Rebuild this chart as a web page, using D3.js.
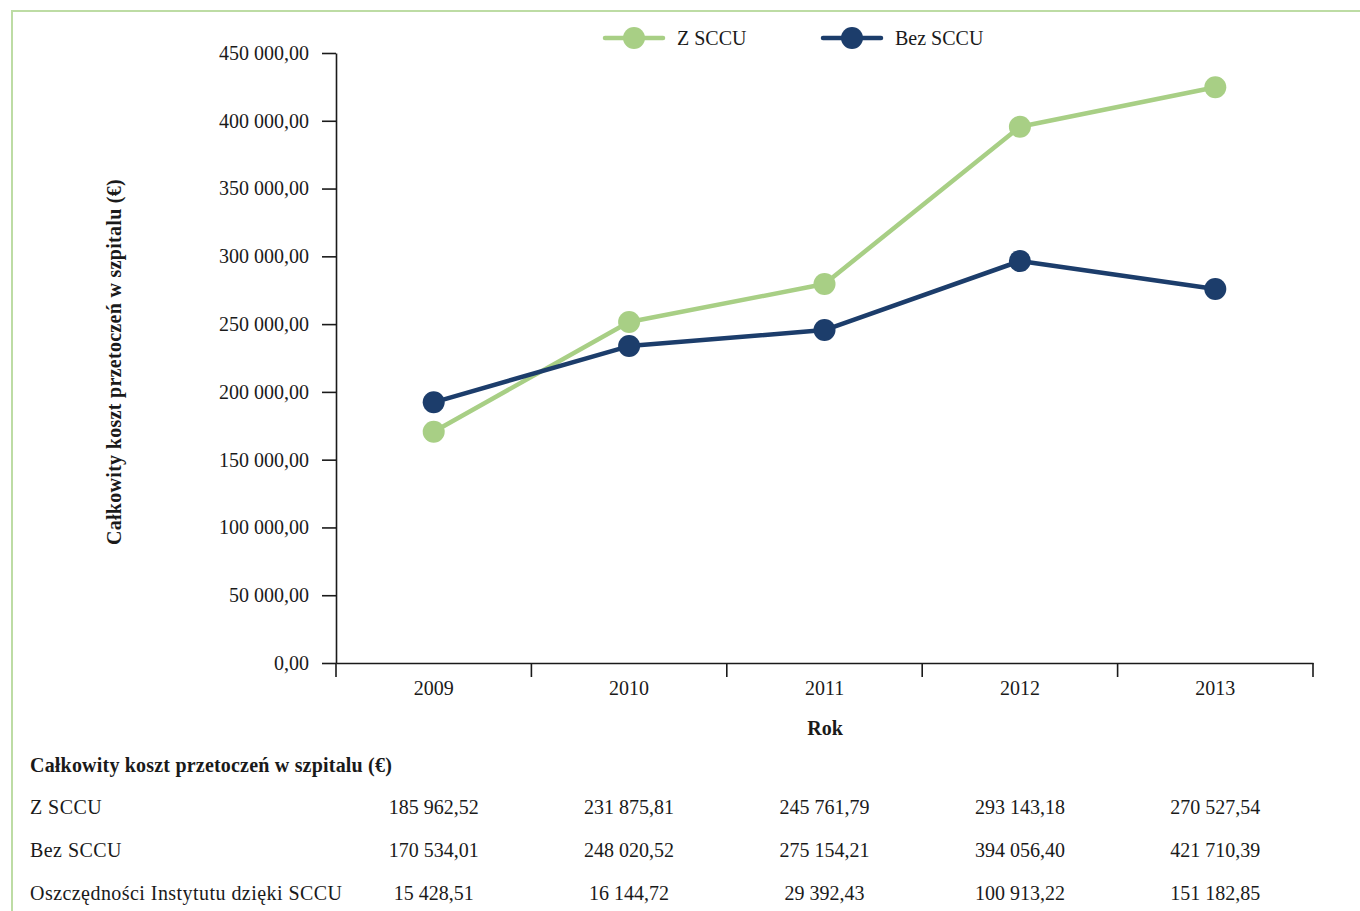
<!DOCTYPE html>
<html>
<head>
<meta charset="utf-8">
<script src="https://cdn.jsdelivr.net/npm/d3@7"></script>
<style>
  html, body { margin: 0; padding: 0; background: #ffffff; }
  svg { display: block; font-family: "Liberation Serif", "Times New Roman", serif; }
</style>
</head>
<body>
<svg id="chart" width="1360" height="911"></svg>
<script>
// Years on the horizontal axis
const years = ["2009", "2010", "2011", "2012", "2013"];

// Plotted series (total transfusion cost per year, €)
const seriesNames = ["Z SCCU", "Bez SCCU"];
const zSccu = [170600, 251500, 279600, 395600, 424700];
const bezSccu = [192300, 233800, 245600, 296500, 275900];

// Y axis ticks
const yTicks = [0, 50000, 100000, 150000, 200000, 250000, 300000, 350000, 400000, 450000];

// Data table below the chart
const tableTitle = "Całkowity koszt przetoczeń w szpitalu (€)";
const rowLabels = ["Z SCCU", "Bez SCCU", "Oszczędności Instytutu dzięki SCCU"];
const rowZ = [185962.52, 231875.81, 245761.79, 293143.18, 270527.54];
const rowBez = [170534.01, 248020.52, 275154.21, 394056.40, 421710.39];
const rowSavings = [15428.51, 16144.72, 29392.43, 100913.22, 151182.85];

const colors = { green: "#a8cf85", blue: "#1c3d6b", frame: "#bddca4", ink: "#1a1a1a" };
const fontSize = 20;

const svg = d3.select("#chart");

// Polish number format: space as thousands separator, comma as decimal mark
const plLocale = d3.formatLocale({ decimal: ",", thousands: "\u00a0", grouping: [3], currency: ["", " €"] });
const fmt = plLocale.format(",.2f");

// Outer frame (top and left rule)
svg.append("line").attr("x1", 11).attr("x2", 1360).attr("y1", 11).attr("y2", 11)
  .attr("stroke", colors.frame).attr("stroke-width", 2);
svg.append("line").attr("x1", 12).attr("x2", 12).attr("y1", 10).attr("y2", 911)
  .attr("stroke", colors.frame).attr("stroke-width", 2);

const plot = { left: 336, right: 1313, top: 53, bottom: 663 };

const x = d3.scaleBand().domain(years).range([plot.left, plot.right]).padding(0);
const y = d3.scaleLinear().domain([0, 450000]).range([plot.bottom, plot.top]);
const cx = d => x(d) + x.bandwidth() / 2;

// Y axis
const yAxis = d3.axisLeft(y).tickValues(yTicks).tickFormat(fmt).tickSize(14).tickPadding(13).tickSizeOuter(0);
const gy = svg.append("g").attr("transform", `translate(${plot.left},0)`).call(yAxis);
gy.select(".domain").attr("stroke", colors.ink).attr("stroke-width", 1.6);
gy.selectAll(".tick line").attr("stroke", colors.ink).attr("stroke-width", 1.6);
gy.selectAll(".tick text").attr("fill", colors.ink).style("font-size", fontSize + "px").style("font-family", "Liberation Serif, serif");

// X axis: labels centred in bands, ticks on band boundaries
const xAxis = d3.axisBottom(x).tickSize(0).tickPadding(18).tickSizeOuter(0);
const gx = svg.append("g").attr("transform", `translate(0,${plot.bottom})`).call(xAxis);
gx.select(".domain").attr("stroke", colors.ink).attr("stroke-width", 1.6);
gx.selectAll(".tick text").attr("fill", colors.ink).style("font-size", fontSize + "px").style("font-family", "Liberation Serif, serif");
const bounds = years.map(d => x(d)).concat([x.range()[1]]);
gx.selectAll(".bound").data(bounds).join("line").attr("class", "bound")
  .attr("x1", d => d).attr("x2", d => d).attr("y1", 0).attr("y2", 14)
  .attr("stroke", colors.ink).attr("stroke-width", 1.6);

// Axis titles
svg.append("text").attr("transform", "translate(121,362) rotate(-90)")
  .attr("text-anchor", "middle").attr("font-weight", "bold").attr("font-size", fontSize)
  .attr("letter-spacing", 0.3).attr("fill", colors.ink)
  .text(tableTitle);
svg.append("text").attr("x", 825).attr("y", 735)
  .attr("text-anchor", "middle").attr("font-weight", "bold").attr("font-size", fontSize).attr("fill", colors.ink)
  .text("Rok");

// Series lines and markers
const series = [
  { name: seriesNames[0], values: zSccu, color: colors.green },
  { name: seriesNames[1], values: bezSccu, color: colors.blue }
];
const line = d3.line().x((d, i) => cx(years[i])).y(d => y(d));
series.forEach(s => {
  svg.append("path").datum(s.values).attr("d", line)
    .attr("fill", "none").attr("stroke", s.color).attr("stroke-width", 4.5)
    .attr("stroke-linejoin", "round");
  svg.selectAll(null).data(s.values).join("circle")
    .attr("cx", (d, i) => cx(years[i])).attr("cy", d => y(d)).attr("r", 11)
    .attr("fill", s.color);
});

// Legend
const legendX = [605, 823];
series.forEach((s, i) => {
  const g = svg.append("g").attr("transform", `translate(${legendX[i]},38)`);
  g.append("line").attr("x1", 0).attr("x2", 58).attr("y1", 0).attr("y2", 0)
    .attr("stroke", s.color).attr("stroke-width", 4.5).attr("stroke-linecap", "round");
  g.append("circle").attr("cx", 29).attr("cy", 0).attr("r", 11).attr("fill", s.color);
  g.append("text").attr("x", 72).attr("y", 6.5).attr("font-size", fontSize).attr("fill", colors.ink).text(s.name);
});

// Data table
svg.append("text").attr("x", 30).attr("y", 772).attr("font-weight", "bold").attr("font-size", fontSize)
  .attr("letter-spacing", 0.2).attr("fill", colors.ink).text(tableTitle);
const rows = [rowZ, rowBez, rowSavings];
const rowY = [814, 857, 900];
rows.forEach((vals, r) => {
  svg.append("text").attr("x", 30).attr("y", rowY[r]).attr("font-size", fontSize)
    .attr("letter-spacing", 0.45).attr("fill", colors.ink)
    .text(rowLabels[r]);
  svg.selectAll(null).data(vals).join("text")
    .attr("x", (d, i) => cx(years[i])).attr("y", rowY[r]).attr("text-anchor", "middle")
    .attr("font-size", fontSize).attr("fill", colors.ink).text(d => fmt(d));
});
</script>
</body>
</html>
